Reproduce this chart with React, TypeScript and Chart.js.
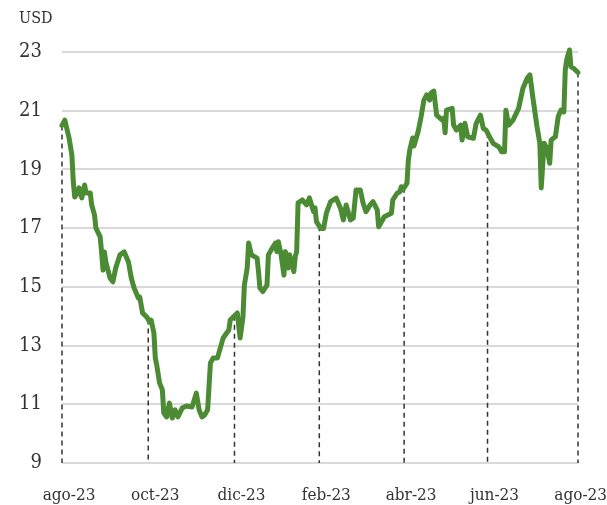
import React, { useEffect, useRef } from "react";
import { Chart, registerables } from "chart.js";

Chart.register(...registerables);

// x position index (start of axis = 0, end = 365)
const days = [
  0, 2, 5, 7, 8, 9, 11, 12, 14, 16, 17, 20, 21, 23, 24, 27, 28, 29, 30, 31, 34, 36, 38, 41, 44, 47, 49, 51, 54, 55, 57, 60, 62,
  63, 65, 66, 67, 69, 71, 72, 74, 76, 78, 80, 82, 85, 88, 92, 95, 97, 99, 101, 103, 105, 107, 110, 112, 114, 118, 119, 124, 126, 128, 129, 131, 132,
  134, 138, 139, 140, 142, 145, 146, 148, 151, 152, 153, 155, 157, 158, 160, 161, 164, 165, 166, 167, 170, 173, 175, 178, 179, 180, 183, 185,
  187, 190, 192, 194, 197, 199, 201, 204, 206, 208, 211, 213, 215, 218, 220, 223, 224, 226, 228, 233, 234, 237, 239, 240, 241, 244, 245, 246,
  248, 249, 252, 254, 256, 258, 260, 261, 263, 265, 269, 270, 271, 272, 276, 277, 279, 282, 283, 285, 287, 291, 293, 296, 298, 300, 303, 305,
  309, 311, 313, 314, 316, 319, 323, 324, 326, 329, 331, 333, 336, 338, 339, 341, 343, 345, 346, 349, 351, 353, 355, 356, 357, 359, 360, 362, 365,
];

const prices = [
  20.5, 20.68, 20.07, 19.49, 18.57, 18.06, 18.2, 18.37, 18.03, 18.47, 18.2, 18.2, 17.79, 17.45, 17.0, 16.7, 16.19, 15.57, 16.19, 15.85, 15.3, 15.17, 15.64, 16.09, 16.19, 15.85, 15.3, 14.96, 14.62, 14.65, 14.11, 13.97, 13.8,
  13.87, 13.43, 12.58, 12.34, 11.73, 11.49, 10.7, 10.57, 11.04, 10.53, 10.81, 10.57, 10.87, 10.94, 10.91, 11.38, 10.81, 10.57, 10.64, 10.81, 12.41, 12.58, 12.58, 12.92, 13.26, 13.53, 13.87, 14.11, 13.26, 13.97, 15.06, 15.64, 16.49,
  16.09, 15.98, 15.52, 14.96, 14.84, 15.06, 16.09, 16.26, 16.49, 16.2, 16.54, 16.09, 15.4, 16.2, 15.64, 16.09, 15.52, 16.03, 16.2, 17.86, 17.96, 17.79, 18.03, 17.56, 17.69, 17.22, 16.99, 16.99,
  17.51, 17.9, 17.96, 18.02, 17.68, 17.28, 17.79, 17.28, 17.34, 18.3, 18.3, 17.85, 17.56, 17.79, 17.9, 17.62, 17.05, 17.22, 17.39, 17.51, 17.96, 18.19, 18.24, 18.41, 18.3, 18.53, 19.32, 19.66,
  20.07, 19.8, 20.31, 20.79, 21.36, 21.54, 21.36, 21.6, 21.67, 20.85, 20.68, 20.74, 20.25, 21.02, 21.08, 20.51, 20.34, 20.51, 20.0, 20.57, 20.11, 20.06, 20.57, 20.85, 20.4, 20.34, 20.06, 19.89,
  19.77, 19.6, 19.6, 21.02, 20.51, 20.68, 21.08, 21.31, 21.76, 22.1, 22.22, 21.47, 20.46, 19.89, 18.37, 19.89, 19.73, 19.21, 20.0, 20.11, 20.8, 21.02, 20.96, 22.39, 22.73, 23.07, 22.5, 22.44, 22.3,
];

const tickDays = [0, 61, 122, 182, 242, 301, 365];
const tickLabels = ["ago-23", "oct-23", "dic-23", "feb-23", "abr-23", "jun-23", "ago-23"];
const yTicks = [9, 11, 13, 15, 17, 19, 21, 23];
const unitLabel = "USD";

const FONT = "'DejaVu Serif Condensed', 'DejaVu Serif', serif";
const GREEN = "#4b8b34";
const TEXT = "#333333";

function valueAt(d: number): number {
  for (let i = 0; i < days.length - 1; i++) {
    if (d >= days[i] && d <= days[i + 1]) {
      const t = (d - days[i]) / (days[i + 1] - days[i] || 1);
      return prices[i] + t * (prices[i + 1] - prices[i]);
    }
  }
  return prices[prices.length - 1];
}

const dashPlugin = {
  id: "dashLines",
  beforeDatasetsDraw(chart: any) {
    const { ctx, chartArea, scales } = chart;
    ctx.save();
    ctx.strokeStyle = "#333333";
    ctx.lineWidth = 1.5;
    ctx.setLineDash([5, 4]);
    tickDays.forEach((d) => {
      const x = scales.x.getPixelForValue(d);
      const y = scales.y.getPixelForValue(valueAt(d));
      ctx.beginPath();
      ctx.moveTo(x, y);
      ctx.lineTo(x, chartArea.bottom);
      ctx.stroke();
    });
    ctx.restore();
  },
  afterDraw(chart: any) {
    const { ctx, chartArea, scales, width } = chart;
    ctx.save();
    ctx.fillStyle = TEXT;
    ctx.font = `16px ${FONT}`;
    ctx.textBaseline = "top";
    ctx.textAlign = "left";
    ctx.fillText(unitLabel, 19, 11);
    // x-axis labels
    ctx.font = `17px ${FONT}`;
    ctx.textBaseline = "middle";
    const ly = chartArea.bottom + 33;
    tickDays.forEach((d, i) => {
      const x = scales.x.getPixelForValue(d);
      if (i === tickDays.length - 1) {
        ctx.textAlign = "right";
        ctx.fillText(tickLabels[i], width, ly);
      } else {
        ctx.textAlign = "center";
        ctx.fillText(tickLabels[i], x + 7, ly);
      }
    });
    ctx.restore();
  },
};

export default function App() {
  const ref = useRef<HTMLCanvasElement>(null);
  useEffect(() => {
    document.body.style.margin = "0";
    if (!ref.current) return;
    const chart = new Chart(ref.current, {
      type: "line",
      data: {
        datasets: [
          {
            data: days.map((d, i) => ({ x: d, y: prices[i] })),
            borderColor: GREEN,
            borderWidth: 5,
            pointRadius: 0,
            tension: 0,
            borderJoinStyle: "round",
            borderCapStyle: "round",
            fill: false,
            clip: false,
          } as any,
        ],
      },
      options: {
        animation: false,
        responsive: false,
        maintainAspectRatio: false,
        layout: { padding: { left: 0, right: 29, top: 52, bottom: 0 } },
        plugins: { legend: { display: false }, tooltip: { enabled: false } },
        scales: {
          x: {
            type: "linear",
            min: 0,
            max: 365,
            afterBuildTicks: (s: any) => {
              s.ticks = tickDays.map((v) => ({ value: v }));
            },
            afterFit: (s: any) => {
              s.height = 42;
            },
            grid: { display: false, drawTicks: false },
            border: { display: false },
            ticks: { display: false },
          },
          y: {
            min: 9,
            max: 23,
            afterBuildTicks: (s: any) => {
              s.ticks = yTicks.map((v) => ({ value: v }));
            },
            afterFit: (s: any) => {
              s.width = 62;
            },
            grid: { color: "#d9d9d9", lineWidth: 2, drawTicks: false },
            border: { display: false },
            ticks: {
              padding: 20,
              color: TEXT,
              font: { family: FONT, size: 20 },
            },
          },
        },
      },
      plugins: [dashPlugin],
    });
    return () => chart.destroy();
  }, []);
  return <canvas ref={ref} width={607} height={505} style={{ display: "block" }} />;
}
